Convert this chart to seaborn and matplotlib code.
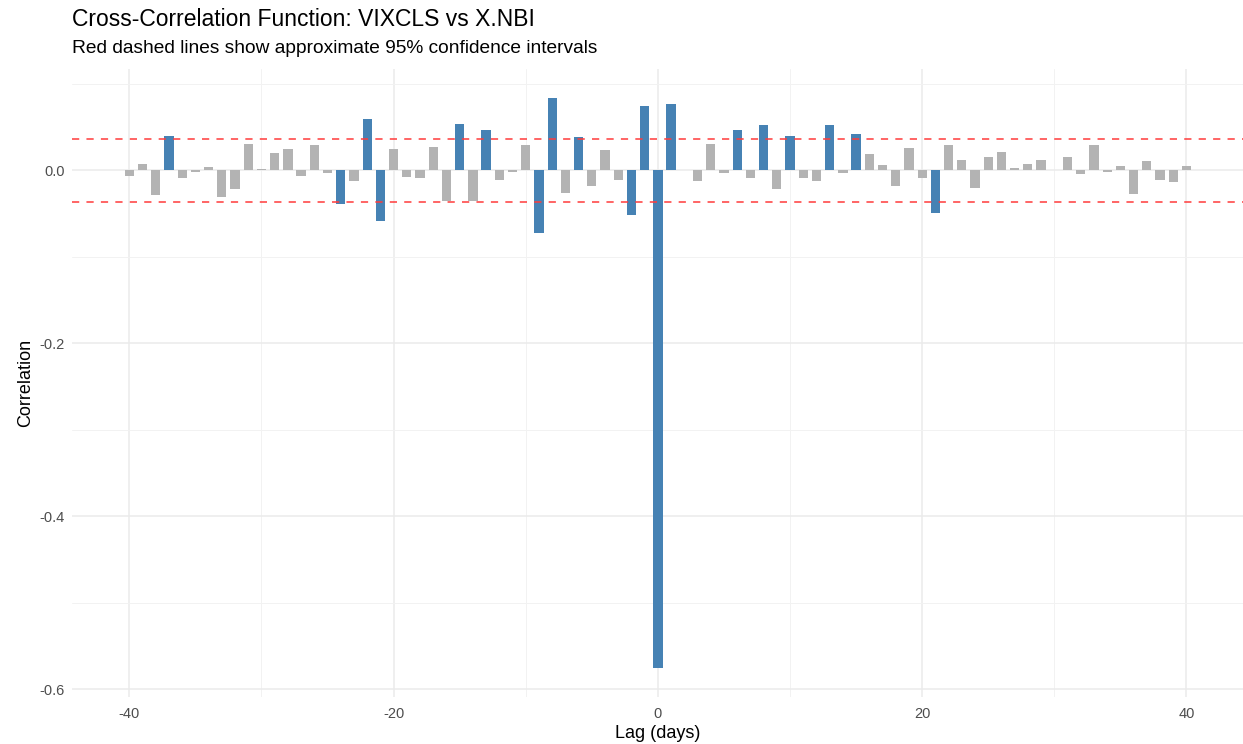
import numpy as np
import pandas as pd
import matplotlib
matplotlib.use("Agg")
import matplotlib.pyplot as plt
import seaborn as sns

# Cross-correlation estimates for lags -40..40 (days)
lags = list(range(-40, 41))
ccf_values = [
    -0.006, 0.007, -0.028, 0.040, -0.0085, -0.002, 0.004, -0.031, -0.021, 0.030,
    0.002, 0.020, 0.025, -0.0066, 0.029, -0.003, -0.0385, -0.012, 0.059, -0.0586,
    0.025, -0.0077, -0.009, 0.027, -0.035, 0.0536, -0.036, 0.0466, -0.0108, -0.002,
    0.0297, -0.072, 0.084, -0.0258, 0.039, -0.018, 0.024, -0.011, -0.0516, 0.075,
    -0.576,
    0.0767, 0.0005, -0.0123, 0.030, -0.0035, 0.0466, -0.0085, 0.0528, -0.0216, 0.0397,
    -0.009, -0.0123, 0.0528, -0.0035, 0.042, 0.0185, 0.0066, -0.0185, 0.0258, -0.009,
    -0.049, 0.0297, 0.012, -0.020, 0.016, 0.021, 0.003, 0.007, 0.0116, 0.0005,
    0.0154, -0.0046, 0.0297, -0.0015, 0.005, -0.0274, 0.0108, -0.0108, -0.0135, 0.0046,
]
conf_limit = 0.0367

df = pd.DataFrame({"lag": lags, "ccf": ccf_values})
df["significant"] = np.where(df["ccf"].abs() > conf_limit, "yes", "no")

sns.set_theme(style="whitegrid")
plt.rcParams["font.family"] = ["Liberation Sans", "DejaVu Sans"]

fig = plt.figure(figsize=(12.43, 7.44), dpi=100)
ax = fig.add_axes([71.7 / 1243, 0.0632, 1 - 71.7 / 1243, 0.8438])

sns.barplot(
    data=df, x="lag", y="ccf", hue="significant",
    palette={"yes": "#4682B4", "no": "#B3B3B3"},
    native_scale=True, width=0.7, dodge=False, legend=False,
    saturation=1, linewidth=0, ax=ax,
)

for lim in (conf_limit, -conf_limit):
    ax.axhline(lim, color="#FF3B3B", alpha=0.85, lw=1.3, ls=(0, (4, 4)), zorder=3)

ax.set_xlim(-44.36, 44.28)
ax.set_ylim(-0.609, 0.117)
ax.set_xticks([-40, -20, 0, 20, 40])
ax.set_xticklabels(["-40", "-20", "0", "20", "40"])
ax.set_xticks([-30, -10, 10, 30], minor=True)
ax.set_yticks([-0.6, -0.4, -0.2, 0.0])
ax.set_yticklabels(["-0.6", "-0.4", "-0.2", "0.0"])
ax.set_yticks([-0.5, -0.3, -0.1, 0.1], minor=True)

ax.set_facecolor("white")
ax.grid(which="major", color="#EBEBEB", lw=1.1)
ax.grid(which="minor", color="#F2F2F2", lw=0.7)
ax.set_axisbelow(True)
for s in ax.spines.values():
    s.set_visible(False)
ax.tick_params(which="both", length=0, labelsize=10.5, colors="#4D4D4D")
ax.tick_params(axis="x", pad=7)
ax.tick_params(axis="y", pad=5)

ax.set_xlabel("Lag (days)", fontsize=13, color="black", labelpad=3)
ax.set_ylabel("Correlation", fontsize=13, color="black", labelpad=4)

fig.text(0.058, 1 - 8 / 744, "Cross-Correlation Function: VIXCLS vs X.NBI",
         fontsize=16.5, va="top", ha="left", color="black")
fig.text(0.058, 1 - 40 / 744, "Red dashed lines show approximate 95% confidence intervals",
         fontsize=13.75, va="top", ha="left", color="black")

fig.savefig("out.png", dpi=100, facecolor="white")
